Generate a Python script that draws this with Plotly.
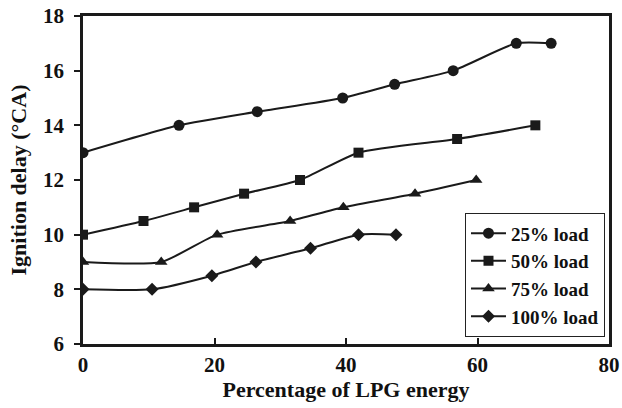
import plotly.graph_objects as go

x25 = [0, 14.6, 26.5, 39.5, 47.4, 56.3, 65.9, 71.2]
y25 = [13, 14, 14.5, 15, 15.5, 16, 17, 17]
x50 = [0, 9.2, 16.9, 24.5, 33.0, 41.9, 56.9, 68.8]
y50 = [10, 10.5, 11, 11.5, 12, 13, 13.5, 14]
x75 = [0, 11.9, 20.4, 31.5, 39.6, 50.5, 59.8]
y75 = [9, 9, 10, 10.5, 11, 11.5, 12]
x100 = [0, 10.5, 19.6, 26.3, 34.6, 41.9, 47.6]
y100 = [8, 8, 8.5, 9, 9.5, 10, 10]

series = [
    ("25% load", x25, y25, "circle", 11),
    ("50% load", x50, y50, "square", 10),
    ("75% load", x75, y75, "triangle-up", 11),
    ("100% load", x100, y100, "diamond", 10),
]

C = "#1a1a1a"
FONT = "Liberation Serif"

def f(size):
    return dict(family=FONT, size=size, color="#111", weight="bold")

fig = go.Figure()
for name, xs, ys, sym, sz in series:
    fig.add_trace(go.Scatter(
        x=xs, y=ys, name=name, mode="lines+markers",
        line=dict(color=C, width=2, shape="spline", smoothing=0.6),
        marker=dict(symbol=sym, size=sz, color=C),
    ))

fig.update_layout(
    width=622, height=408,
    margin=dict(l=83, r=13, t=16, b=64, autoexpand=False),
    paper_bgcolor="white", plot_bgcolor="white",
    font=f(20),
    showlegend=True,
    legend=dict(
        x=0.992, y=0.021, xanchor="right", yanchor="bottom",
        bordercolor="#222", borderwidth=1.2, bgcolor="white",
        font=f(19),
        tracegroupgap=0, itemwidth=35,
    ),
)
fig.update_xaxes(
    range=[0, 80], dtick=20, showgrid=False, zeroline=False, automargin=False,
    showline=True, linecolor=C, linewidth=2.5, mirror=True,
    ticks="inside", ticklen=6, tickwidth=2, tickcolor=C,
    tickfont=f(21), ticklabeloverflow="allow",
    title=dict(text="Percentage of LPG energy", font=f(22), standoff=5),
)
fig.update_yaxes(
    range=[6, 18], dtick=2, showgrid=False, zeroline=False, automargin=False,
    showline=True, linecolor=C, linewidth=2.5, mirror=True,
    ticks="outside", ticklen=6, tickwidth=2, tickcolor=C,
    tickfont=f(21), ticklabeloverflow="allow", ticklabelstandoff=6,
    title=dict(text="Ignition delay (°CA)", font=f(22), standoff=11),
)

fig.write_html("out.html", config={"displayModeBar": False},
               post_script="document.body.style.margin='0';")
